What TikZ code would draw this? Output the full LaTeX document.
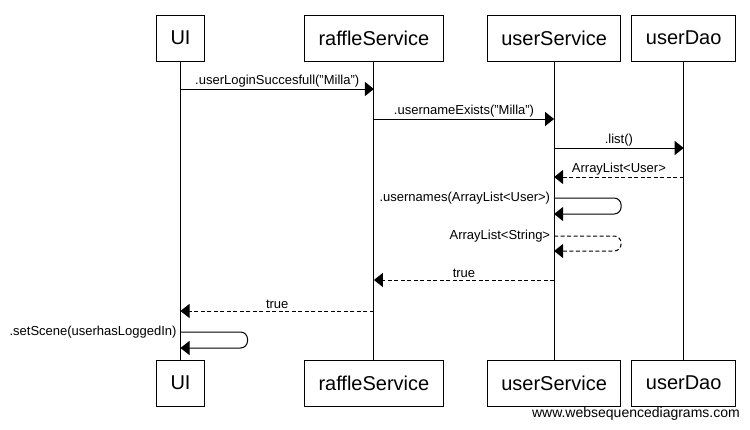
\documentclass[tikz,border=0pt]{standalone}
\usepackage{fontspec}
\setmainfont{Liberation Sans}
\usepackage{tikz}
\usetikzlibrary{arrows.meta, positioning}
\tikzset{
  actor/.style={rectangle, draw, line width=1pt, minimum height=46pt,
    inner xsep=14pt, font=\fontsize{20}{24}\selectfont},
  lifeline/.style={line width=1pt},
  msg/.style={-{Triangle[length=9pt, width=14pt]}, line width=1pt},
  reply/.style={msg, dash pattern=on 4pt off 2.5pt},
  msglabel/.style={font=\fontsize{13}{15}\selectfont, inner sep=1.5pt},
}
\begin{document}
\begin{tikzpicture}[x=1pt, y=-1pt]

  \useasboundingbox[fill=white] (0,0) rectangle (750,429);

  %% ── participants (top) ──────────────────────────────────────
  \node[actor] (ui) at (180.5,38) {UI};
  \node[actor, right=99pt of ui] (raffle) {raffleService};
  \node[actor, right=43pt of raffle] (usersvc) {userService};
  \node[actor, right=10pt of usersvc] (dao) {userDao};

  %% ── participants (bottom) ───────────────────────────────────
  \node[actor, below=298pt of ui] (uiend) {UI};
  \node[actor, below=298pt of raffle] (raffleend) {raffleService};
  \node[actor, below=298pt of usersvc] (usersvcend) {userService};
  \node[actor, below=298pt of dao] (daoend) {userDao};

  % lifelines
  \draw[lifeline] (ui) -- (uiend);
  \draw[lifeline] (raffle) -- (raffleend);
  \draw[lifeline] (usersvc) -- (usersvcend);
  \draw[lifeline] (dao) -- (daoend);

  %% ── message rows ────────────────────────────────────────────
  \coordinate (m1) at (0,89);
  \coordinate (m2) at (0,119);
  \coordinate (m3) at (0,148);
  \coordinate (m4) at (0,177);
  \coordinate (m5) at (0,198);
  \coordinate (m5b) at (0,214);
  \coordinate (m6) at (0,236);
  \coordinate (m6b) at (0,251);
  \coordinate (m7) at (0,280);
  \coordinate (m8) at (0,311);
  \coordinate (m9) at (0,332);
  \coordinate (m9b) at (0,348);

  \draw[msg] (ui |- m1) -- node[msglabel, above]
    {.userLoginSuccesfull("Milla")} (raffle |- m1);
  \draw[msg] (raffle |- m2) -- node[msglabel, above]
    {.usernameExists("Milla")} (usersvc |- m2);
  \draw[msg] (usersvc |- m3) -- node[msglabel, above] {.list()} (dao |- m3);
  \draw[reply] (dao |- m4) -- node[msglabel, above]
    {ArrayList<User>} (usersvc |- m4);

  % self calls on userService
  \draw[msg, rounded corners=7pt] (usersvc |- m5)
    node[msglabel, left=2pt] {.usernames(ArrayList<User>)}
    -- ++(67,0) |- (usersvc |- m5b);
  \draw[reply, rounded corners=7pt] (usersvc |- m6)
    node[msglabel, left=2pt] {ArrayList<String>}
    -- ++(67,0) |- (usersvc |- m6b);

  % replies back to UI
  \draw[reply] (usersvc |- m7) -- node[msglabel, above] {true} (raffle |- m7);
  \draw[reply] (raffle |- m8) -- node[msglabel, above] {true} (ui |- m8);

  % self call on UI
  \draw[msg, rounded corners=7pt] (ui |- m9)
    node[msglabel, left=2pt] {.setScene(userhasLoggedIn)}
    -- ++(67,0) |- (ui |- m9b);

  \node[font=\fontsize{14}{16}\selectfont, anchor=east, inner sep=0pt]
    (credit) at (740,414) {www.websequencediagrams.com};

\end{tikzpicture}
\end{document}
